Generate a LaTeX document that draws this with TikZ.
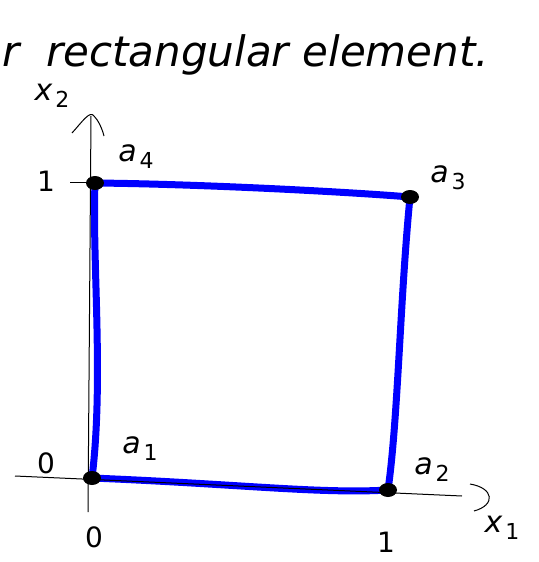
\documentclass[tikz,border=0pt]{standalone}
\usepackage{fontspec}
\setmainfont{DejaVu Sans}
\usetikzlibrary{shapes.geometric}
\newcommand{\lbl}[2]{#1\kern3pt\raisebox{-7pt}{\fontsize{22}{24}\selectfont\upshape #2}}
\begin{document}
\begin{tikzpicture}[x=1pt,y=-1pt,
  edge/.style={draw={rgb,255:red,0;green,0;blue,255},line width=7pt,line cap=round,line join=round},
  axis/.style={draw=black,line width=1pt},
  pt/.style={fill=black,ellipse,minimum width=18pt,minimum height=14pt,inner sep=0pt},
  lab/.style={font=\fontsize{30}{32}\selectfont\itshape,inner sep=0pt},
  num/.style={font=\fontsize{28}{30}\selectfont,inner sep=0pt}]
\useasboundingbox (0,0) rectangle (538,562);
% title
\node[anchor=base west,font=\fontsize{42}{44}\selectfont\itshape,inner sep=0pt] (title) at (2,66) {r\ \ rectangular element.};
% points
\coordinate (a1) at (92,478);
\coordinate (a2) at (388,490);
\coordinate (a3) at (410,197);
\coordinate (a4) at (95,183);
% blue edges
\draw[edge] (a1) .. controls (240,484) and (320,494) .. (a2);
\draw[edge] (a2) .. controls (398,420) and (400,300) .. (a3);
\draw[edge] (a3) .. controls (350,192) and (200,184) .. (a4);
\draw[edge] (a4) .. controls (92,260) and (104,380) .. (a1);
% axes
\coordinate (x1s) at (15,476);
\coordinate (x1e) at (462,496);
\coordinate (x2s) at (88,512);
\coordinate (x2e) at (91,116);
\draw[axis] (x1s) -- (x1e);
\draw[axis] (x2s) -- (x2e);
\draw[axis] (470,484) .. controls (494,488) and (496,505) .. (474,511);
\draw[axis] (72,133) .. controls (82,122) and (90,110) .. (94,116) .. controls (98,120) and (102,128) .. (104,136);
\draw[axis] (70,182) -- (86,182);
% corner dots
\node[pt] (d1) at (a1) {};
\node[pt] (d2) at (a2) {};
\node[pt] (d3) at (a3) {};
\node[pt] (d4) at (a4) {};
% labels
\node[lab] (lx2) at (52,96) {\lbl{x}{2}};
\node[lab] (la4) at (136,157) {\lbl{a}{4}};
\node[num] (l1y) at (46,181) {1};
\node[lab] (la3) at (448,178) {\lbl{a}{3}};
\node[lab] (la1) at (140,449) {\lbl{a}{1}};
\node[num] (l0y) at (46,463) {0};
\node[num] (l0x) at (94,537) {0};
\node[lab] (la2) at (432,470) {\lbl{a}{2}};
\node[num] (l1x) at (386,542) {1};
\node[lab] (lx1) at (502,528) {\lbl{x}{1}};
\end{tikzpicture}
\end{document}
